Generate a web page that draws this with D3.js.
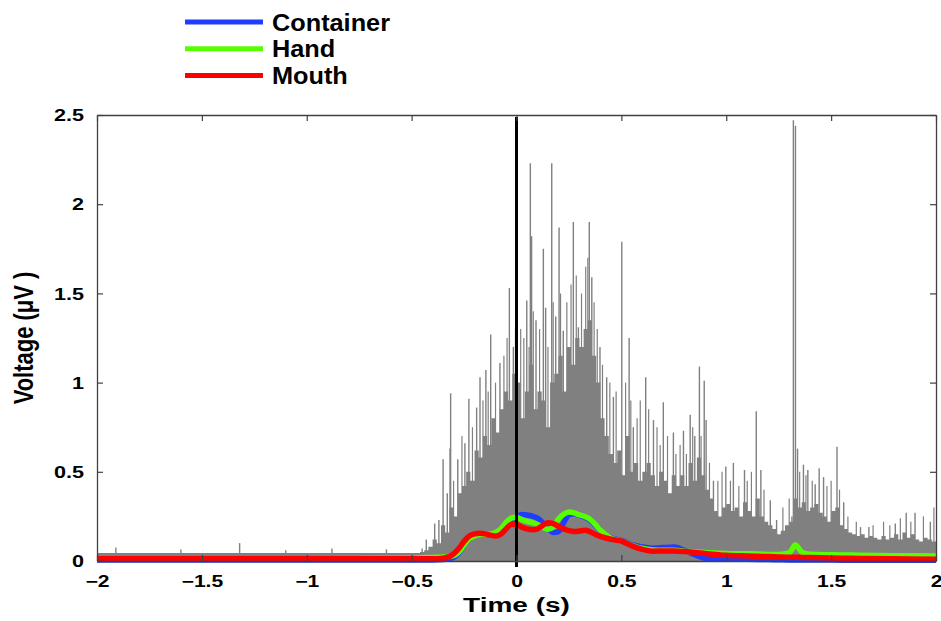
<!DOCTYPE html>
<html>
<head>
<meta charset="utf-8">
<script src="https://cdn.jsdelivr.net/npm/d3@7"></script>
<style>
  html, body { margin: 0; padding: 0; background: #fff; }
  svg { display: block; }
  text { font-family: "Liberation Sans", Arial, Helvetica, sans-serif; fill: #000; }
</style>
</head>
<body>
<svg id="chart" width="941" height="621"></svg>
<script>
// Averaged envelopes per condition (µV) sampled on a shared time base (s)
const times = [-2.0, -1.0, -0.5, -0.45, -0.4, -0.35, -0.3, -0.275, -0.25, -0.225, -0.2, -0.175, -0.15, -0.125, -0.1, -0.075, -0.05, -0.025, 0, 0.025, 0.05, 0.075, 0.1, 0.125, 0.15, 0.175, 0.2, 0.225, 0.25, 0.275, 0.3, 0.325, 0.35, 0.375, 0.4, 0.45, 0.5, 0.55, 0.6, 0.65, 0.7, 0.75, 0.8, 0.85, 0.9, 1.0, 1.1, 1.2, 1.25, 1.3, 1.33, 1.36, 1.4, 1.5, 1.6, 1.8, 2.0];
const container = [0.006, 0.006, 0.006, 0.006, 0.006, 0.008, 0.02, 0.045, 0.09, 0.125, 0.145, 0.15, 0.15, 0.148, 0.152, 0.17, 0.2, 0.225, 0.245, 0.26, 0.258, 0.252, 0.24, 0.215, 0.185, 0.16, 0.165, 0.215, 0.26, 0.265, 0.255, 0.245, 0.23, 0.2, 0.17, 0.13, 0.115, 0.092, 0.078, 0.072, 0.075, 0.078, 0.06, 0.035, 0.015, 0.01, 0.01, 0.008, 0.007, 0.006, 0.006, 0.006, 0.005, 0.005, 0.004, 0.004, 0.004];
const hand = [0.012, 0.012, 0.015, 0.018, 0.02, 0.022, 0.03, 0.05, 0.09, 0.125, 0.14, 0.148, 0.15, 0.152, 0.16, 0.18, 0.215, 0.24, 0.245, 0.232, 0.222, 0.215, 0.205, 0.19, 0.178, 0.19, 0.235, 0.262, 0.275, 0.27, 0.258, 0.25, 0.235, 0.205, 0.172, 0.128, 0.112, 0.088, 0.07, 0.062, 0.06, 0.06, 0.055, 0.05, 0.048, 0.042, 0.04, 0.037, 0.036, 0.045, 0.09, 0.05, 0.038, 0.035, 0.033, 0.03, 0.028];
const mouth = [0.012, 0.012, 0.012, 0.012, 0.012, 0.015, 0.04, 0.07, 0.11, 0.14, 0.152, 0.155, 0.152, 0.145, 0.14, 0.15, 0.18, 0.205, 0.205, 0.19, 0.18, 0.175, 0.18, 0.2, 0.215, 0.21, 0.195, 0.18, 0.17, 0.165, 0.168, 0.172, 0.165, 0.15, 0.138, 0.122, 0.112, 0.085, 0.065, 0.055, 0.056, 0.056, 0.053, 0.048, 0.042, 0.032, 0.028, 0.025, 0.023, 0.021, 0.021, 0.02, 0.019, 0.017, 0.015, 0.012, 0.01];

const seriesNames = ["Container", "Hand", "Mouth"];
const seriesColors = ["#1f3dff", "#55ff00", "#ff0000"];

// Raw rectified trace.
// Resting level before movement onset (µV)
const restStart = -2, restEnd = -0.46, restLevel = 0.045;
// Dense body: peak level in consecutive 20 ms bins starting at -0.46 s
const binStart = -0.46, binWidth = 0.02;
const binPeaks = [
  0.05, 0.06, 0.08,
  0.12, 0.1, 0.2, 0.16, 0.3, 0.25, 0.38, 0.42, 0.5, 0.45, 0.62, 0.58, 0.7, 0.65, 0.8, 0.72, 0.85, 0.95, 0.9, 1.05,
  1.0, 0.8, 0.95, 1.1, 0.85, 0.95, 0.9, 0.75, 1.0, 1.05,
  1.15, 0.95, 1.2, 1.1, 1.25, 1.2, 1.3, 1.35, 1.15, 1.0,
  0.8, 0.7, 0.6, 0.55, 0.62, 0.48, 0.7, 0.5, 0.55, 0.45,
  0.5, 0.55, 0.48, 0.42, 0.5, 0.45, 0.38, 0.48, 0.42, 0.48,
  0.42, 0.55, 0.45, 0.58, 0.48, 0.4, 0.35, 0.28, 0.25, 0.3,
  0.32, 0.28, 0.3, 0.25, 0.33, 0.28, 0.25, 0.35, 0.25, 0.22,
  0.2, 0.18, 0.15, 0.17, 0.2, 0.22, 0.35, 0.3, 0.33, 0.28,
  0.3, 0.32, 0.27, 0.25, 0.22, 0.28, 0.3, 0.2, 0.18, 0.16,
  0.15, 0.14, 0.15, 0.13, 0.14, 0.13, 0.12, 0.14, 0.12, 0.13,
  0.15, 0.12, 0.16, 0.13, 0.15, 0.12, 0.11, 0.13, 0.12, 0.11
];
// Tall isolated spikes
const spikeTimes = [-1.91, -1.6, -1.32, -1.1, -0.88, -0.62, -0.45, -0.43, -0.39, -0.37, -0.35, -0.33, -0.317, -0.314, -0.28, -0.246, -0.227, -0.19, -0.174, -0.146, -0.123, -0.079, -0.034, -0.015, 0.049, 0.066, 0.072, 0.093, 0.128, 0.139, 0.168, 0.187, 0.203, 0.223, 0.271, 0.295, 0.347, 0.359, 0.398, 0.43, 0.462, 0.502, 0.537, 0.557, 0.616, 0.653, 0.7, 0.748, 0.796, 0.828, 0.85, 0.872, 0.895, 0.904, 0.939, 0.998, 1.034, 1.087, 1.143, 1.165, 1.21, 1.24, 1.313, 1.32, 1.33, 1.34, 1.368, 1.389, 1.424, 1.443, 1.464, 1.528, 1.56, 1.64, 1.68, 1.806, 1.858, 1.9, 1.973];
const spikeHeights = [0.075, 0.065, 0.1, 0.06, 0.07, 0.065, 0.07, 0.12, 0.21, 0.23, 0.57, 0.38, 0.63, 0.94, 0.57, 0.66, 0.91, 0.86, 1.03, 1.07, 1.27, 1.11, 1.53, 1.2, 1.46, 2.23, 1.82, 1.35, 1.75, 1.42, 2.23, 1.37, 1.87, 1.29, 1.9, 1.31, 1.9, 1.59, 1.2, 1.03, 0.92, 1.79, 1.25, 0.75, 1.03, 0.79, 0.89, 0.72, 0.73, 0.82, 0.7, 1.09, 1.01, 0.79, 0.45, 0.53, 0.55, 0.51, 0.84, 0.51, 0.34, 0.23, 0.25, 2.47, 2.44, 0.63, 0.54, 0.51, 0.43, 0.52, 0.47, 0.64, 0.33, 0.19, 0.19, 0.21, 0.27, 0.27, 0.22];
// Medium spikes filling out the active period
const minorTimes = [-0.3, -0.26, -0.21, -0.16, -0.135, -0.1, -0.06, -0.045, -0.005, 0.02, 0.035, 0.06, 0.08, 0.11, 0.15, 0.175, 0.21, 0.24, 0.26, 0.285, 0.31, 0.33, 0.34, 0.37, 0.385, 0.41, 0.445, 0.475, 0.52, 0.545, 0.575, 0.59, 0.63, 0.67, 0.685, 0.72, 0.76, 0.78, 0.81, 0.84, 0.88, 0.92, 0.96, 0.98, 1.02, 1.06, 1.1, 1.12, 1.18, 1.27, 1.3, 1.35, 1.38, 1.41, 1.48, 1.5, 1.54, 1.58, 1.62, 1.7, 1.75, 1.78, 1.83, 1.88, 1.94, 1.99];
const minorHeights = [0.45, 0.7, 0.75, 0.9, 0.95, 1.0, 1.15, 1.25, 1.3, 1.3, 1.25, 1.2, 1.4, 1.3, 1.2, 1.45, 1.5, 1.45, 1.55, 1.6, 1.5, 1.65, 1.7, 1.45, 1.3, 1.1, 1.0, 0.95, 1.0, 0.9, 0.8, 0.9, 0.85, 0.75, 0.65, 0.7, 0.6, 0.65, 0.6, 0.75, 0.7, 0.55, 0.45, 0.5, 0.45, 0.42, 0.45, 0.5, 0.4, 0.3, 0.35, 0.5, 0.48, 0.45, 0.42, 0.45, 0.4, 0.25, 0.22, 0.2, 0.22, 0.2, 0.24, 0.22, 0.25, 0.3];

const eventTime = 0;

const xTicks = [-2, -1.5, -1, -0.5, 0, 0.5, 1, 1.5, 2];
const xTickLabels = ["\u22122", "\u22121.5", "\u22121", "\u22120.5", "0", "0.5", "1", "1.5", "2"];
const yTicks = [0, 0.5, 1, 1.5, 2, 2.5];
const yTickLabels = ["0", "0.5", "1", "1.5", "2", "2.5"];

const svg = d3.select("#chart");
const margin = { left: 97, right: 5, top: 115, bottom: 60 };
const W = 941, H = 621;

const x = d3.scaleLinear().domain([-2, 2]).range([margin.left, W - margin.right]);
const y = d3.scaleLinear().domain([0, 2.5]).range([H - margin.bottom, margin.top]);

const plot = svg.append("g");
plot.append("clipPath").attr("id", "clip")
  .append("rect").attr("x", x(-2)).attr("y", y(2.5)).attr("width", x(2) - x(-2)).attr("height", y(0) - y(2.5));

const gray = "#808080";
const raw = plot.append("g").attr("clip-path", "url(#clip)");

// resting band + binned body as one stepped silhouette
const steps = [[restStart, restLevel]];
binPeaks.forEach((v, i) => steps.push([binStart + i * binWidth, v]));
steps.push([binStart + binPeaks.length * binWidth, binPeaks[binPeaks.length - 1]]);
raw.append("path")
  .datum(steps)
  .attr("fill", gray)
  .attr("d", d3.area().x(d => x(d[0])).y0(y(0)).y1(d => y(d[1])).curve(d3.curveStepAfter));

raw.selectAll("line.minor")
  .data(minorTimes.map((t, i) => [t, minorHeights[i]]))
  .join("line")
  .attr("class", "minor")
  .attr("x1", d => x(d[0])).attr("x2", d => x(d[0]))
  .attr("y1", y(0)).attr("y2", d => y(d[1]))
  .attr("stroke", gray).attr("stroke-width", 1.2);

raw.selectAll("line.spike")
  .data(spikeTimes.map((t, i) => [t, spikeHeights[i]]))
  .join("line")
  .attr("class", "spike")
  .attr("x1", d => x(d[0])).attr("x2", d => x(d[0]))
  .attr("y1", y(0)).attr("y2", d => y(d[1]))
  .attr("stroke", gray).attr("stroke-width", 1.4);

// condition averages
const seriesData = [container, hand, mouth];
const line = d3.line().x(d => x(d[0])).y(d => y(d[1])).curve(d3.curveMonotoneX);
seriesData.forEach((vals, k) => {
  plot.append("path")
    .datum(times.map((t, i) => [t, vals[i]]))
    .attr("fill", "none")
    .attr("stroke", seriesColors[k])
    .attr("stroke-width", 5.5)
    .attr("stroke-linejoin", "round")
    .attr("d", line);
});

// onset marker
plot.append("line")
  .attr("x1", x(eventTime)).attr("x2", x(eventTime))
  .attr("y1", y(2.5) + 2).attr("y2", y(0) + 6)
  .attr("stroke", "#000").attr("stroke-width", 3);

// axes box with inward ticks
const axisColor = "#404040";
const gx = svg.append("g").attr("transform", `translate(0,${y(0)})`)
  .call(d3.axisBottom(x).tickValues(xTicks).tickFormat((d, i) => xTickLabels[i]).tickSize(-6).tickSizeOuter(0).tickPadding(15));
const gxt = svg.append("g").attr("transform", `translate(0,${y(2.5)})`)
  .call(d3.axisTop(x).tickValues(xTicks).tickFormat("").tickSize(-6).tickSizeOuter(0));
const gy = svg.append("g").attr("transform", `translate(${x(-2)},0)`)
  .call(d3.axisLeft(y).tickValues(yTicks).tickFormat((d, i) => yTickLabels[i]).tickSize(-6).tickSizeOuter(0));
const gyr = svg.append("g").attr("transform", `translate(${x(2)},0)`)
  .call(d3.axisRight(y).tickValues(yTicks).tickFormat("").tickSize(-6).tickSizeOuter(0));

[gx, gxt, gy, gyr].forEach(g => {
  g.select(".domain").attr("stroke", axisColor).attr("stroke-width", 1.3);
  g.selectAll(".tick line").attr("stroke", axisColor).attr("stroke-width", 1.2);
});
gx.selectAll("text")
  .attr("font-size", 16).attr("font-weight", "bold").attr("fill", "#000")
  .attr("font-family", "Liberation Sans, Arial, sans-serif")
  .attr("transform", "scale(1.32,1)");
gy.selectAll("text")
  .attr("x", 0).attr("dy", "0.36em")
  .attr("font-size", 16).attr("font-weight", "bold").attr("fill", "#000")
  .attr("font-family", "Liberation Sans, Arial, sans-serif")
  .attr("transform", "translate(-13,0) scale(1.35,1)");

// axis titles
svg.append("text")
  .attr("transform", `translate(${(x(-2) + x(2)) / 2},612) scale(1.4,1)`)
  .attr("text-anchor", "middle").attr("font-size", 20).attr("font-weight", "bold")
  .text("Time (s)");
svg.append("text")
  .attr("transform", `translate(33,${(y(0) + y(2.5)) / 2}) rotate(-90) scale(1.1,1.35)`)
  .attr("text-anchor", "middle").attr("font-size", 20).attr("font-weight", "bold")
  .text("Voltage (\u03bcV )");

// legend
const legend = svg.append("g");
seriesNames.forEach((name, k) => {
  const ly = 22 + k * 26.7;
  legend.append("line")
    .attr("x1", 185).attr("x2", 263).attr("y1", ly).attr("y2", ly)
    .attr("stroke", seriesColors[k]).attr("stroke-width", 5);
  legend.append("text")
    .attr("transform", `translate(272,${ly + 8.5}) scale(1.1,1)`)
    .attr("font-size", 23).attr("font-weight", "bold")
    .text(name);
});
</script>
</body>
</html>
